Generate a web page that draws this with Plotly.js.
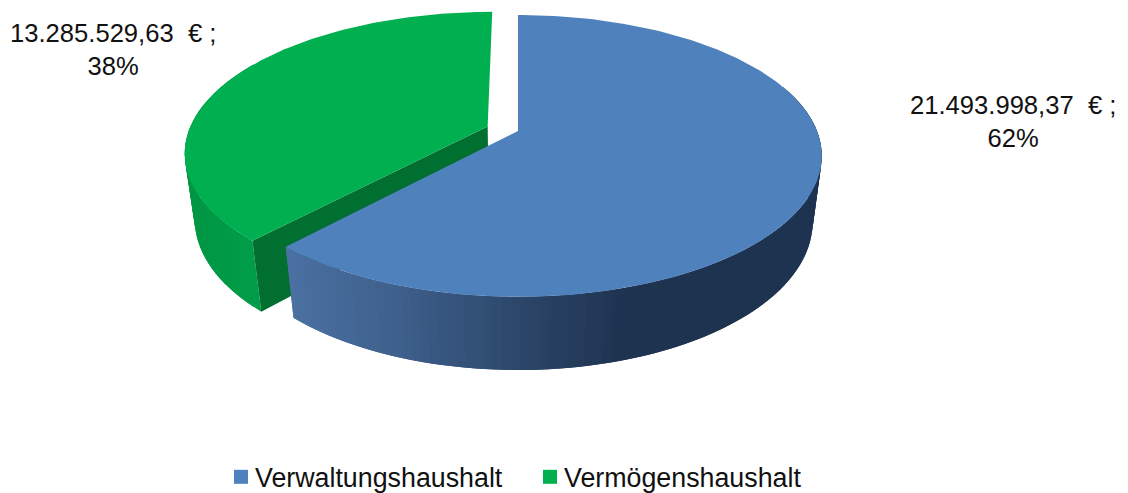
<!DOCTYPE html>
<html><head><meta charset="utf-8">
<script src="https://cdn.plot.ly/plotly-3.0.1.min.js"></script>
<style>html,body{margin:0;padding:0;background:#fff}#chart{width:1128px;height:493px}</style>
</head><body><div id="chart"></div>
<script>
// Data
const categories = ["Verwaltungshaushalt", "Vermögenshaushalt"];
const values = [21493998.37, 13285529.63];
const valueLabels = ["21.493.998,37  € ;<br>62%", "13.285.529,63  € ;<br>38%"];
const topColors = ["#4f81bd", "#00b050"];
const blueWallStops = [[291, [74,113,162]], [400, [62,96,140]], [500, [47,75,112]], [630, [30,51,80]]];
const greenWallStops = [[185, [0,150,68]], [260, [0,158,72]]];
const greenCutColor = "#006f2f";

// Projection of the tilted pie (circle coordinates u, v, depth z) to chart units
const view = {ax:518, ay:131, rx:299, ry:136.5, k:0.177, c:0.03, h:67.4};
const explode = {u:-0.1020, v:0.0330};
function project(u, v, z) {
  const w = 1 + view.k * v + view.c * z;
  return [view.ax + view.rx * u / w, view.ay + (-view.ry * v + view.h * z) / w];
}
const total = values.reduce((a, b) => a + b, 0);
const cutDeg = 360 * values[0] / total;
const rim = (deg, z, o) => {
  const t = deg * Math.PI / 180;
  return project(o.u + Math.sin(t), o.v + Math.cos(t), z);
};
const noOffset = {u:0, v:0};
function mix(stops, x) {
  if (x <= stops[0][0]) return stops[0][1];
  for (let i = 1; i < stops.length; i++) {
    if (x <= stops[i][0]) {
      const f = (x - stops[i-1][0]) / (stops[i][0] - stops[i-1][0]);
      return stops[i-1][1].map((c, j) => c + (stops[i][1][j] - c) * f);
    }
  }
  return stops[stops.length - 1][1];
}
const rgb = c => "rgb(" + c.map(Math.round).join(",") + ")";
function poly(pts, color) {
  return {type:"scatter", mode:"lines", x:pts.map(p=>p[0]).concat(pts[0][0]), y:pts.map(p=>p[1]).concat(pts[0][1]),
    fill:"toself", fillcolor:color, line:{color:color, width:0}, hoverinfo:"skip", showlegend:false};
}
// side wall as overlapping bands, walked towards the viewer so no seams show
function wall(from, to, step, o, stops) {
  const out = [];
  for (let d = from; d < to - 1e-6; d += step) {
    const e = Math.min(d + step * 2, to);
    const a = rim(d, 0, o), b = rim(e, 0, o), c = rim(e, 1, o), f = rim(d, 1, o);
    out.push(poly([a, b, c, f], rgb(mix(stops, a[0]))));
  }
  return out;
}
function face(from, to, o) {
  const pts = [project(o.u, o.v, 0)];
  for (let d = from; d <= to + 1e-6; d += 1) pts.push(rim(Math.min(d, to), 0, o));
  pts.push(rim(to, 0, o));
  return pts;
}
const greenOffset = explode;
const traces = [];
// green slice
traces.push(...wall(cutDeg, 300, 2, greenOffset, greenWallStops));
traces.push(poly([project(greenOffset.u, greenOffset.v, 0), rim(cutDeg, 0, greenOffset), rim(cutDeg, 1, greenOffset), project(greenOffset.u, greenOffset.v, 1)], greenCutColor));
traces.push(poly(face(cutDeg, 360, greenOffset), topColors[1]));
// blue slice
traces.push(...wall(70, cutDeg, 1.5, noOffset, blueWallStops));
traces.push(poly(face(0, cutDeg, noOffset), topColors[0]));
// legend entries
categories.forEach((name, i) => traces.push({type:"scatter", mode:"markers", x:[null], y:[null], name:name,
  marker:{symbol:"square", size:14, color:topColors[i]}, hoverinfo:"skip", showlegend:true}));

const labelFont = {family:"Liberation Sans, Arial, sans-serif", size:25.6, color:"#111"};
const layout = {
  width:1128, height:493, margin:{l:0,r:0,t:0,b:0,autoexpand:false}, paper_bgcolor:"#fff", plot_bgcolor:"#fff",
  xaxis:{range:[0,1128], visible:false, fixedrange:true},
  yaxis:{range:[493,0], visible:false, fixedrange:true},
  showlegend:true,
  legend:{orientation:"h", x:0.1906, xanchor:"left", y:-0.016, yanchor:"bottom", bgcolor:"rgba(0,0,0,0)",
    entrywidth:264, entrywidthmode:"pixels",
    font:{family:"Liberation Sans, Arial, sans-serif", size:26.8, color:"#111"}, itemclick:false, itemdoubleclick:false},
  annotations:[
    {x:1013, y:121, text:valueLabels[0], showarrow:false, font:labelFont, align:"center", xref:"x", yref:"y"},
    {x:113, y:49, text:valueLabels[1], showarrow:false, font:labelFont, align:"center", xref:"x", yref:"y"}
  ]
};
Plotly.newPlot("chart", traces, layout, {displayModeBar:false}).then(() => {
  // the reference keeps its legend swatches closer to the text
  document.querySelectorAll(".legendsymbols").forEach(g => g.setAttribute("transform", "translate(6,0)"));
});
</script></body></html>
